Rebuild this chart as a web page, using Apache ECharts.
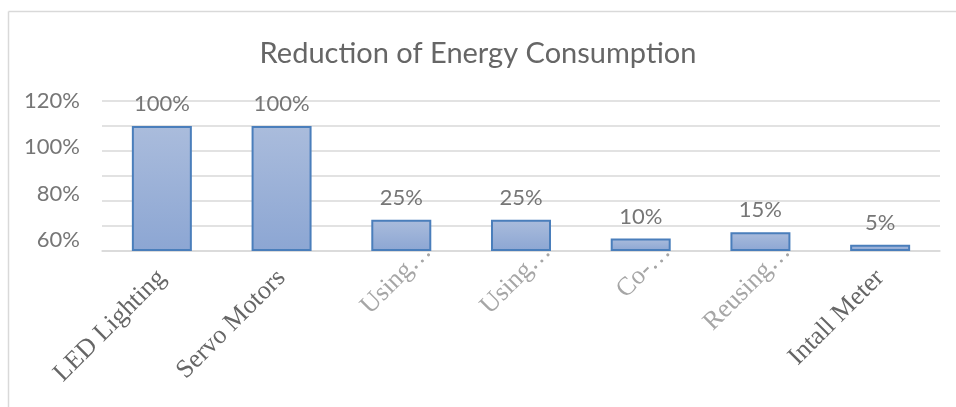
<!DOCTYPE html>
<html>
<head>
<meta charset="utf-8">
<script src="https://cdn.jsdelivr.net/npm/echarts@6/dist/echarts.min.js"></script>
<style>
html,body{margin:0;padding:0;background:#fff;}
#chart{width:956px;height:407px;}
</style>
</head>
<body>
<div id="chart"></div>
<script>
var titleText = 'Reduction of Energy Consumption';
var categories = ['LED Lighting', 'Servo Motors', 'Using…', 'Using…', 'Co-…', 'Reusing…', 'Intall Meter'];
var truncated = [false, false, true, true, true, true, false];
var values = [100, 100, 25, 25, 10, 15, 5];
var yTickLabels = [60, 80, 100, 120];

var chart = echarts.init(document.getElementById('chart'));

var catData = categories.map(function (c, i) {
  return truncated[i]
    ? { value: c, textStyle: { color: '#a6a6a6', padding: [0, -37, 9, 0] } }
    : c;
});

var option = {
  animation: false,
  backgroundColor: '#fff',
  title: {
    text: titleText,
    left: 'center',
    top: 34,
    textStyle: { fontFamily: 'Lato', fontSize: 29, fontWeight: 'normal', color: '#666666' }
  },
  graphic: [
    { type: 'line', shape: { x1: 8.5, y1: 11.5, x2: 960, y2: 11.5 }, style: { stroke: '#d9d9d9', lineWidth: 1.5 } },
    { type: 'line', shape: { x1: 8.5, y1: 11.5, x2: 8.5, y2: 410 }, style: { stroke: '#d9d9d9', lineWidth: 1.5 } }
  ],
  grid: { left: 102, right: 16, top: 101, bottom: 156, containLabel: false },
  xAxis: {
    type: 'category',
    data: catData,
    axisLine: { lineStyle: { color: '#d9d9d9', width: 1.5 } },
    axisTick: { show: false },
    axisLabel: {
      rotate: 45,
      interval: 0,
      margin: 23,
      fontFamily: 'Liberation Serif',
      fontSize: 26,
      color: '#666666'
    }
  },
  yAxis: [
    {
      type: 'value',
      min: 0, max: 120, interval: 20,
      axisLine: { show: false },
      axisTick: { show: false },
      axisLabel: { show: false },
      splitLine: { lineStyle: { color: '#d9d9d9', width: 1.5 } }
    },
    {
      type: 'value',
      position: 'left',
      min: 55.2, max: 120,
      axisLine: { show: false },
      axisTick: { show: false },
      splitLine: { show: false },
      axisLabel: {
        customValues: yTickLabels,
        formatter: '{value}%',
        margin: 22,
        fontFamily: 'Lato',
        fontSize: 22,
        color: '#767676'
      }
    }
  ],
  series: [{
    type: 'bar',
    yAxisIndex: 0,
    data: values,
    barWidth: 60,
    itemStyle: {
      color: new echarts.graphic.LinearGradient(0, 0, 0, 1, [
        { offset: 0, color: '#aabcdc' },
        { offset: 1, color: '#8ca6d3' }
      ]),
      borderColor: '#4a7ebb',
      borderWidth: 2
    },
    label: {
      show: true,
      position: 'top',
      distance: 11,
      formatter: '{c}%',
      fontFamily: 'Lato',
      fontSize: 22,
      color: '#767676'
    }
  }]
};
chart.setOption(option);
</script>
</body>
</html>
